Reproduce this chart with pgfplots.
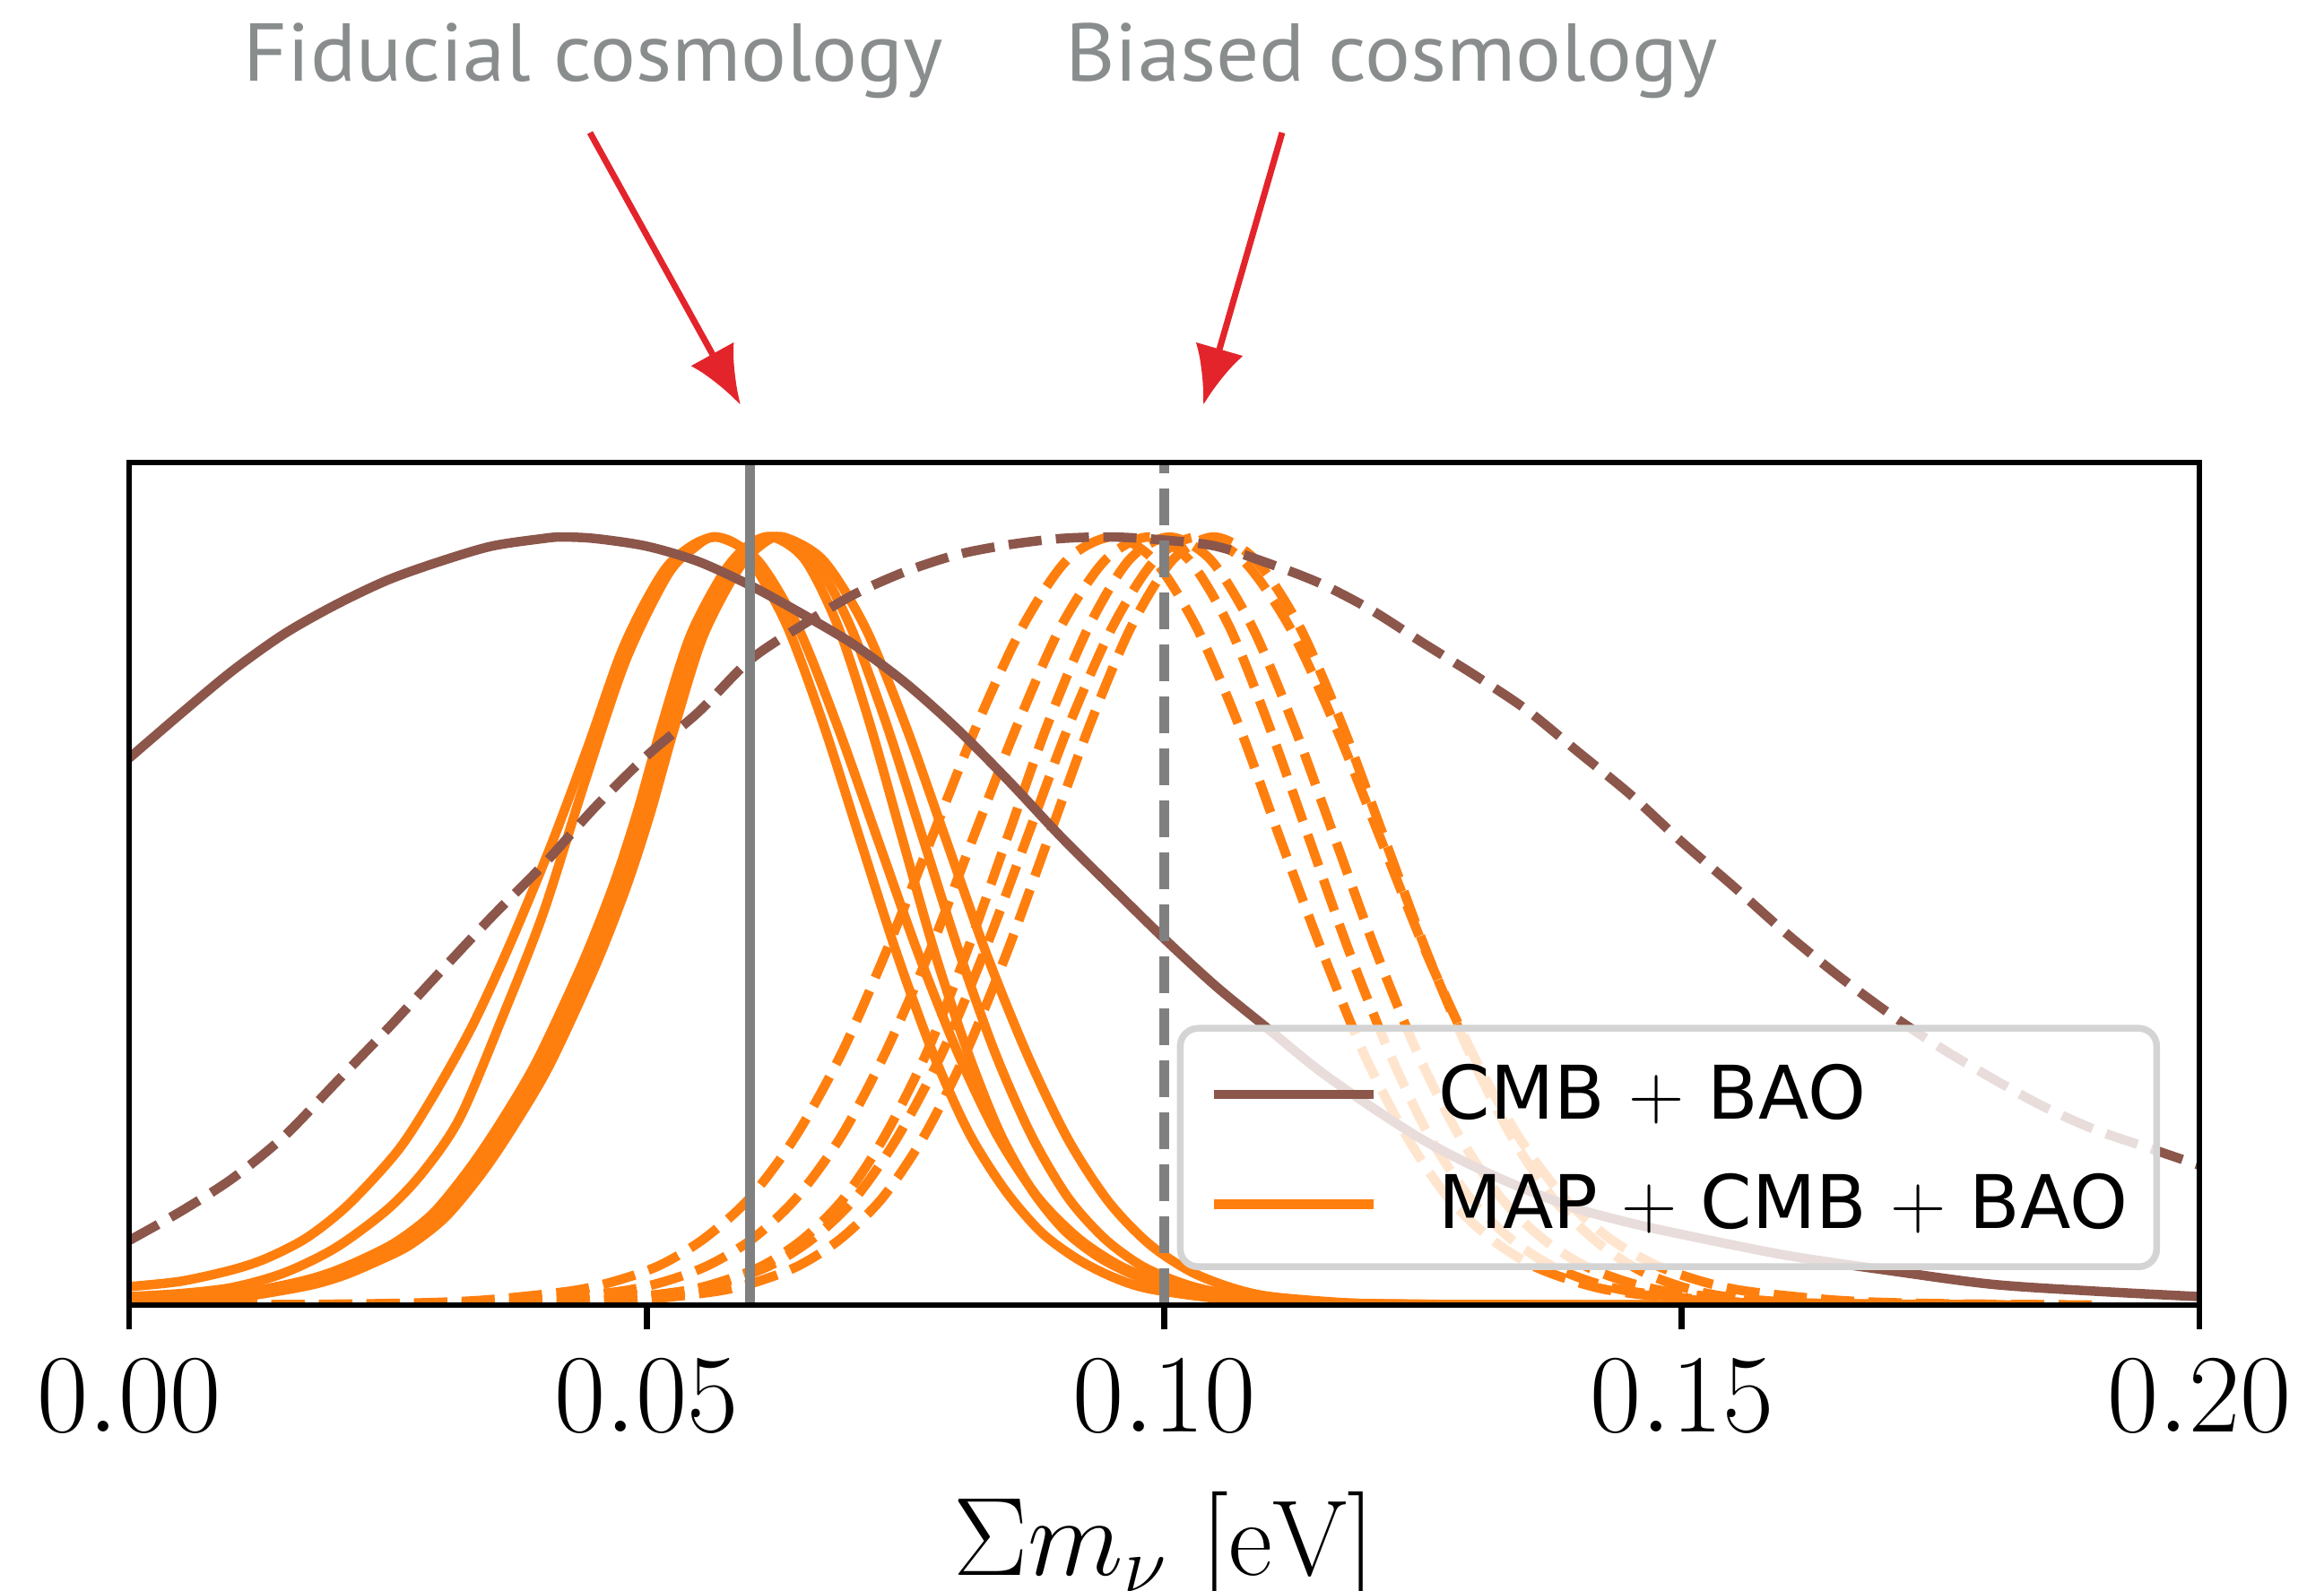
\documentclass[border=0pt]{standalone}
\usepackage{fontspec}
\usepackage{pgfplots}
\pgfplotsset{compat=1.18}
\usetikzlibrary{arrows.meta}
\newfontfamily\legfont{DejaVu Sans}
\newfontfamily\titfont{PT Sans}
\definecolor{tabbrown}{HTML}{8C564B}
\definecolor{taborange}{HTML}{FF7F0E}
\definecolor{vgray}{HTML}{808080}
\definecolor{titgray}{HTML}{898D8D}
\definecolor{arrred}{HTML}{E3242B}
\definecolor{legbord}{HTML}{D4D4D4}
\begin{document}
\begin{tikzpicture}
\begin{axis}[
  at={(0,0)}, anchor=south west,
  scale only axis, width=461.8pt, height=188pt,
  xmin=0, xmax=0.2, ymin=0, ymax=1.097,
  axis on top,
  axis line style={line width=1.35pt},
  xtick={0,0.05,0.1,0.15,0.2},
  xticklabels={$0.00$,$0.05$,$0.10$,$0.15$,$0.20$},
  ytick=\empty,
  tick align=outside, xtick pos=bottom,
  major tick length=5.5pt,
  every tick/.style={line width=1.35pt, black},
  xticklabel style={font=\fontsize{23}{27}\selectfont, anchor=base, yshift=-22.8pt},
  xlabel={$\Sigma m_\nu\ [\mathrm{eV}]$},
  xlabel style={font=\fontsize{24}{28}\selectfont, at={(axis description cs:0.5,0)}, anchor=base, yshift=-60.2pt},
  legend style={
    at={(rel axis cs:0.981,0.0415)}, anchor=south east,
    draw=legbord, line width=1.5pt, rounded corners=4pt,
    fill=white, fill opacity=0.8, text opacity=1,
    inner xsep=6.4pt, inner ysep=8.5pt,
    row sep=12.8pt,
    font=\legfont\fontsize{16.5}{19}\selectfont,
    nodes={inner sep=0pt, text height=11.7pt, text depth=0pt},
    /tikz/every odd column/.append style={column sep=13.6pt},
  },
  legend cell align=left,
  legend image code/.code={\path (0pt,0pt); \draw[#1, line width=2.1pt, solid] (0pt,-0.45pt) -- (35.6pt,-0.45pt);},
  every axis plot/.append style={line width=2.1pt, line join=round},
]
\addlegendimage{tabbrown}
\addlegendentry{CMB $+$ BAO}
\addlegendimage{taborange}
\addlegendentry{MAP $+$ CMB $+$ BAO}

% --- orange solid (fiducial MAP + CMB + BAO) ---
\addplot[taborange, smooth, forget plot] coordinates {(0,0.024)(0.005,0.031)(0.01,0.046)(0.0133,0.061)(0.0172,0.088)(0.0212,0.131)(0.0259,0.2)(0.0292,0.268)(0.0331,0.362)(0.0368,0.47)(0.0408,0.60)(0.0444,0.73)(0.0474,0.845)(0.0497,0.911)(0.052,0.962)(0.0545,0.99)(0.0566,1)(0.0585,0.992)(0.0601,0.97)(0.0636,0.883)(0.0671,0.755)(0.0706,0.607)(0.0741,0.46)(0.0776,0.33)(0.0811,0.225)(0.0846,0.15)(0.0881,0.095)(0.0916,0.06)(0.0951,0.036)(0.0986,0.021)(0.1056,0.008)(0.1126,0.003)(0.125,0.001)(0.14,0)};
\addplot[taborange, smooth, forget plot] coordinates {(0,0.011)(0.005,0.015)(0.01,0.023)(0.015,0.042)(0.02,0.075)(0.025,0.125)(0.0285,0.175)(0.032,0.245)(0.0361,0.376)(0.04,0.51)(0.044,0.68)(0.048,0.84)(0.052,0.95)(0.0545,0.985)(0.0568,1)(0.0607,0.97)(0.0646,0.883)(0.0684,0.755)(0.0723,0.607)(0.0762,0.459)(0.0801,0.327)(0.0839,0.22)(0.0878,0.14)(0.0917,0.087)(0.0956,0.052)(0.0994,0.031)(0.1033,0.018)(0.1111,0.006)(0.1188,0.002)(0.13,0.0005)(0.15,0)};
\addplot[taborange, smooth, forget plot] coordinates {(0,0.005)(0.0044,0.008)(0.0094,0.012)(0.016,0.029)(0.0194,0.042)(0.0226,0.06)(0.0259,0.083)(0.0294,0.12)(0.0329,0.178)(0.0359,0.238)(0.0394,0.318)(0.0438,0.445)(0.0468,0.547)(0.0491,0.642)(0.0514,0.752)(0.0542,0.871)(0.0575,0.955)(0.0599,0.99)(0.0622,1)(0.0653,0.97)(0.0685,0.883)(0.0716,0.755)(0.0747,0.607)(0.0778,0.46)(0.081,0.33)(0.0841,0.225)(0.0872,0.15)(0.0903,0.098)(0.0935,0.064)(0.0966,0.042)(0.0997,0.027)(0.106,0.011)(0.1122,0.004)(0.1185,0.0015)(0.135,0.0003)(0.16,0)};
\addplot[taborange, smooth, forget plot] coordinates {(0,0.004)(0.005,0.007)(0.01,0.011)(0.0166,0.027)(0.02,0.04)(0.0232,0.058)(0.0265,0.08)(0.03,0.118)(0.0335,0.175)(0.0365,0.235)(0.04,0.315)(0.0444,0.443)(0.0474,0.545)(0.0497,0.64)(0.052,0.75)(0.0548,0.87)(0.0581,0.955)(0.0605,0.99)(0.0627,1)(0.0662,0.97)(0.0697,0.883)(0.0732,0.755)(0.0767,0.607)(0.0802,0.459)(0.0837,0.327)(0.0872,0.22)(0.0907,0.14)(0.0942,0.087)(0.0977,0.052)(0.1012,0.031)(0.1047,0.018)(0.1117,0.006)(0.1187,0.002)(0.13,0.0005)(0.16,0)};
\addplot[taborange, smooth, forget plot] coordinates {(0,0.003)(0.0056,0.006)(0.0106,0.01)(0.0172,0.025)(0.0206,0.038)(0.0238,0.056)(0.0271,0.078)(0.0306,0.115)(0.0341,0.172)(0.0371,0.232)(0.0406,0.312)(0.045,0.44)(0.048,0.543)(0.0503,0.638)(0.0526,0.748)(0.0554,0.869)(0.0587,0.955)(0.0611,0.99)(0.0632,1)(0.0671,0.969)(0.0711,0.8825)(0.075,0.755)(0.0789,0.6065)(0.0828,0.458)(0.0868,0.325)(0.0907,0.216)(0.0946,0.135)(0.0985,0.08)(0.1025,0.044)(0.1064,0.023)(0.1103,0.011)(0.1182,0.0025)(0.126,0.0005)(0.14,0.0001)(0.18,0)};

% --- orange dashed (biased MAP + CMB + BAO) ---
\addplot[taborange, smooth, dash pattern=on 7.4pt off 3.2pt, forget plot] coordinates {(0,0)(0.01,0.0002)(0.025,0.002)(0.0338,0.006)(0.0425,0.018)(0.0469,0.031)(0.0513,0.052)(0.0556,0.087)(0.06,0.14)(0.0644,0.22)(0.0688,0.327)(0.0731,0.459)(0.0775,0.607)(0.0819,0.755)(0.0863,0.883)(0.0906,0.97)(0.095,1)(0.099,0.97)(0.1031,0.883)(0.1072,0.755)(0.1112,0.607)(0.1153,0.459)(0.1193,0.327)(0.1234,0.22)(0.1274,0.14)(0.1315,0.087)(0.1355,0.052)(0.1396,0.031)(0.1436,0.018)(0.1517,0.006)(0.1598,0.002)(0.18,0)};
\addplot[taborange, smooth, dash pattern=on 7.4pt off 3.2pt, forget plot] coordinates {(0,0)(0.012,0.0002)(0.0305,0.002)(0.039,0.006)(0.0475,0.018)(0.0518,0.031)(0.056,0.052)(0.0603,0.087)(0.0645,0.14)(0.0688,0.22)(0.073,0.327)(0.0773,0.459)(0.0815,0.607)(0.0858,0.755)(0.09,0.883)(0.0943,0.97)(0.0985,1)(0.1024,0.97)(0.1063,0.883)(0.1101,0.755)(0.114,0.607)(0.1179,0.459)(0.1218,0.327)(0.1256,0.22)(0.1295,0.14)(0.1334,0.087)(0.1373,0.052)(0.1411,0.031)(0.145,0.018)(0.1528,0.006)(0.1605,0.002)(0.18,0)};
\addplot[taborange, smooth, dash pattern=on 7.4pt off 3.2pt, forget plot] coordinates {(0,0)(0.015,0.0002)(0.0377,0.002)(0.0456,0.006)(0.0534,0.018)(0.0573,0.031)(0.0613,0.052)(0.0652,0.087)(0.0691,0.14)(0.073,0.22)(0.077,0.327)(0.0809,0.459)(0.0848,0.607)(0.0887,0.755)(0.0927,0.883)(0.0966,0.97)(0.1005,1)(0.1045,0.97)(0.1085,0.883)(0.1125,0.755)(0.1165,0.607)(0.1205,0.459)(0.1245,0.327)(0.1285,0.22)(0.1325,0.14)(0.1365,0.087)(0.1405,0.052)(0.1445,0.031)(0.1485,0.018)(0.1565,0.006)(0.1645,0.002)(0.185,0)};
\addplot[taborange, smooth, dash pattern=on 7.4pt off 3.2pt, forget plot] coordinates {(0,0)(0.015,0.0002)(0.0372,0.002)(0.0455,0.006)(0.0537,0.018)(0.0578,0.031)(0.062,0.052)(0.0661,0.087)(0.0702,0.14)(0.0743,0.22)(0.0785,0.327)(0.0826,0.459)(0.0867,0.607)(0.0908,0.755)(0.095,0.883)(0.0991,0.97)(0.1032,1)(0.1076,0.97)(0.1121,0.883)(0.1165,0.755)(0.1209,0.607)(0.1253,0.459)(0.1298,0.327)(0.1342,0.22)(0.1386,0.14)(0.143,0.087)(0.1475,0.052)(0.1519,0.031)(0.1563,0.018)(0.1652,0.006)(0.174,0.002)(0.19,0)};
\addplot[taborange, smooth, dash pattern=on 7.4pt off 3.2pt, forget plot] coordinates {(0,0)(0.02,0.0002)(0.0408,0.002)(0.0488,0.006)(0.0568,0.018)(0.0608,0.031)(0.0648,0.052)(0.0688,0.087)(0.0728,0.14)(0.0768,0.22)(0.0808,0.327)(0.0848,0.459)(0.0888,0.607)(0.0928,0.755)(0.0968,0.883)(0.1008,0.97)(0.1048,1)(0.1089,0.969)(0.1131,0.8825)(0.1172,0.755)(0.1213,0.6065)(0.1254,0.458)(0.1296,0.325)(0.1337,0.216)(0.1378,0.135)(0.142,0.08)(0.1461,0.044)(0.1502,0.023)(0.1543,0.011)(0.1626,0.0022)(0.18,0)};

% --- brown solid (CMB + BAO) ---
\addplot[tabbrown, smooth, forget plot] coordinates {(0,0.712)(0.005,0.77)(0.01,0.826)(0.015,0.874)(0.02,0.912)(0.025,0.944)(0.03,0.968)(0.035,0.988)(0.04,0.998)(0.0418,1)(0.045,0.998)(0.05,0.988)(0.055,0.968)(0.06,0.937)(0.065,0.9)(0.07,0.86)(0.075,0.81)(0.08,0.75)(0.085,0.682)(0.09,0.61)(0.095,0.543)(0.1,0.477)(0.105,0.415)(0.11,0.36)(0.115,0.305)(0.12,0.258)(0.125,0.215)(0.13,0.18)(0.135,0.15)(0.14,0.125)(0.145,0.107)(0.15,0.092)(0.16,0.065)(0.17,0.045)(0.18,0.027)(0.19,0.018)(0.2,0.011)};
% --- brown dashed (biased CMB + BAO) ---
\addplot[tabbrown, smooth, dash pattern=on 7.4pt off 3.2pt, forget plot] coordinates {(0,0.084)(0.005,0.122)(0.01,0.165)(0.015,0.22)(0.02,0.29)(0.025,0.36)(0.03,0.433)(0.035,0.505)(0.04,0.573)(0.045,0.648)(0.05,0.715)(0.055,0.772)(0.06,0.84)(0.065,0.885)(0.07,0.925)(0.075,0.955)(0.08,0.977)(0.085,0.99)(0.09,0.998)(0.095,1)(0.1,0.996)(0.105,0.988)(0.11,0.966)(0.115,0.94)(0.12,0.905)(0.125,0.862)(0.13,0.82)(0.135,0.775)(0.14,0.72)(0.145,0.665)(0.15,0.603)(0.155,0.545)(0.16,0.485)(0.165,0.43)(0.17,0.38)(0.175,0.335)(0.18,0.295)(0.185,0.258)(0.19,0.228)(0.195,0.205)(0.2,0.182)};

% --- reference cosmologies ---
\addplot[vgray, line width=2.3pt, forget plot] coordinates {(0.06,0) (0.06,1.097)};
\addplot[vgray, line width=2.3pt, dash pattern=on 8.1pt off 3.5pt, forget plot] coordinates {(0.1,0) (0.1,1.097)};
\end{axis}

\node[anchor=base, text=titgray, font=\titfont\fontsize{18.3}{21}\selectfont, xscale=1.04] at (103.5pt,273pt) {Fiducial cosmology};
\node[anchor=base, text=titgray, font=\titfont\fontsize{18.3}{21}\selectfont, xscale=1.04] at (281.6pt,273pt) {Biased cosmology};
\draw[arrred, line width=1.4pt, -{Latex[length=13pt,width=11pt]}] (102.8pt,261.6pt) -- (136.4pt,200.8pt);
\draw[arrred, line width=1.4pt, -{Latex[length=13pt,width=11pt]}] (257.2pt,261.6pt) -- (239.6pt,200.8pt);

\pgfresetboundingbox
\useasboundingbox (-28.8pt,-63.8pt) rectangle (489.6pt,291.2pt);
\end{tikzpicture}
\end{document}
